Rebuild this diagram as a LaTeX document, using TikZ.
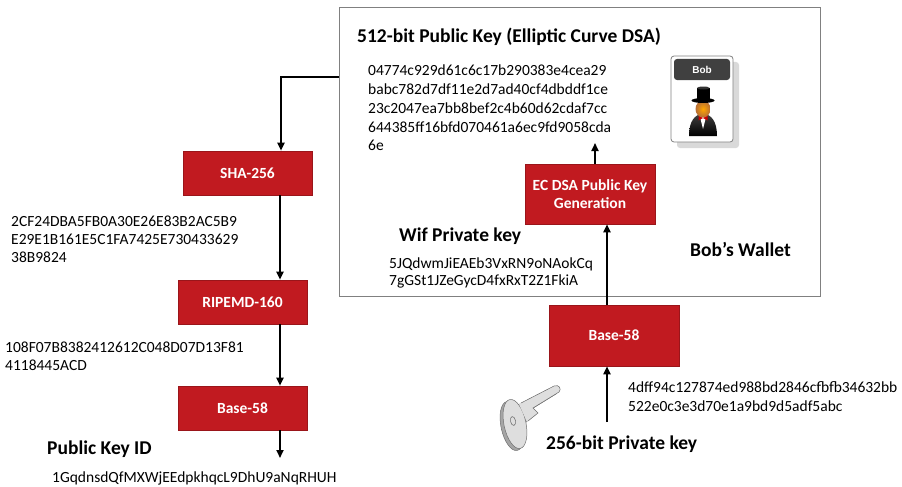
\documentclass[tikz,border=0pt]{standalone}
\usepackage{fontspec}
\setmainfont{Carlito}
\newfontfamily\cardfont{Liberation Sans}
\usetikzlibrary{arrows.meta,shapes.geometric}
\definecolor{boxred}{RGB}{193,26,32}
\definecolor{framegrey}{RGB}{128,128,128}
\definecolor{cardhead}{RGB}{64,64,64}
\definecolor{skin}{RGB}{214,128,62}
\definecolor{keylight}{RGB}{222,222,222}
\definecolor{keydark}{RGB}{165,165,165}
\definecolor{keyline}{RGB}{110,110,110}
\begin{document}
\begin{tikzpicture}[x=1pt,y=-1pt,
  stepbox/.style={rectangle, fill=boxred, draw=boxred!80!black, line width=0.6pt,
    text=white, font=\fontsize{15.5}{18}\selectfont\bfseries, align=center, inner sep=0pt},
  hexline/.style={anchor=base west, inner sep=0pt, font=\fontsize{15.5}{18.5}\selectfont},
  caption/.style={anchor=base west, inner sep=0pt, font=\fontsize{19.5}{22}\selectfont\bfseries},
  arr/.style={line width=1.8pt, -{Triangle[length=8pt,width=7pt]}},
]
\useasboundingbox (0,0) rectangle (902,487);

% ---------------- Bob's wallet frame ----------------
\node[draw=framegrey, line width=0.9pt, minimum width=481pt, minimum height=289pt,
      inner sep=0pt] (wallet) at (579.5,151.5) {};

\node[caption] (pktitle) at (357,42.7) {512-bit Public Key (Elliptic Curve DSA)};
\node[hexline] (pk1) at (368,76)    {04774c929d61c6c17b290383e4cea29};
\node[hexline] (pk2) at (368,94.7)  {babc782d7df11e2d7ad40cf4dbddf1ce};
\node[hexline] (pk3) at (368,113.4) {23c2047ea7bb8bef2c4b60d62cdaf7cc};
\node[hexline] (pk4) at (368,132.1) {644385ff16bfd070461a6ec9fd9058cda};
\node[hexline] (pk5) at (368,150.8) {6e};

\node[caption] (wiftitle) at (399,241) {Wif Private key};
\node[hexline] (wif1) at (389,268) {5JQdwmJiEAEb3VxRN9oNAokCq};
\node[hexline] (wif2) at (389,285) {7gGSt1JZeGycD4fxRxT2Z1FkiA};

\node[caption] (wallettitle) at (690,256) {Bob’s Wallet};

\node[stepbox, minimum width=130pt, minimum height=60pt] (ecdsa) at (590,194)
  {EC DSA Public Key\\Generation};

% ---------------- Bob's card ----------------
\fill[black!15, rounded corners=3pt] (677,62) rectangle (739,148);
\node[draw=framegrey, fill=white, line width=0.8pt, rounded corners=3pt,
      minimum width=62pt, minimum height=86pt, inner sep=0pt] (card) at (702,99) {};
\node[fill=cardhead, rounded corners=3pt, minimum width=56pt, minimum height=21pt,
      inner sep=0pt, text=white, font=\cardfont\fontsize{10}{12}\selectfont\bfseries]
      (cardname) at (702,69.5) {Bob};
% body in tuxedo
\shade[top color=black!75, bottom color=black]
  (689,136) .. controls (689,121) and (695,114) .. (703,114)
            .. controls (711,114) and (717,121) .. (717,136) -- cycle;
\fill[white] (699.5,115) -- (706.5,115) -- (703,129) -- cycle;
\fill[red!80!black] (703,118) -- (698.5,115.5) -- (698.5,120.5) -- cycle;
\fill[red!80!black] (703,118) -- (707.5,115.5) -- (707.5,120.5) -- cycle;
% head
\shade[inner color=orange!70!yellow, outer color=skin!85!black]
  (703,109) ellipse [x radius=7.5, y radius=8.5];
% top hat
\fill[black] (697,88) rectangle (709.5,100);
\fill[black!80] (703.25,88) ellipse [x radius=6.25, y radius=1.5];
\fill[black] (703,100.5) ellipse [x radius=11.5, y radius=2.5];

% ---------------- private key side ----------------
\node[stepbox, minimum width=130pt, minimum height=61pt] (b58r) at (614,335.5) {Base-58};
\node[hexline] (priv1) at (628,392) {4dff94c127874ed988bd2846cfbfb34632bb};
\node[hexline] (priv2) at (628,411) {522e0c3e3d70e1a9bd9d5adf5abc};
\node[caption] (privtitle) at (546,449.3) {256-bit Private key};

% key picture: thickness first, then the front face
\begin{scope}[shift={(-3,2)}]
  \filldraw[fill=keydark, draw=keyline, line width=0.5pt]
    (515,424) ellipse [x radius=11, y radius=25, rotate=12];
  \fill[keydark] (519,404) -- (554,386) .. controls (559,384) and (562,389) .. (559,392)
    -- (533,408) -- (538,413) -- (527,422) -- cycle;
  \draw[keyline, line width=0.5pt] (521,403) -- (554,386) .. controls (559,384) and (562,389) .. (559,392)
    -- (533,408) -- (538,413) -- (528,421);
\end{scope}
\filldraw[fill=keylight, draw=keyline, line width=0.5pt]
  (515,424) ellipse [x radius=11, y radius=25, rotate=12];
\fill[keylight] (519,404) -- (554,386) .. controls (559,384) and (562,389) .. (559,392)
  -- (533,408) -- (538,413) -- (527,422) -- cycle;
\draw[keyline, line width=0.5pt] (521,403) -- (554,386) .. controls (559,384) and (562,389) .. (559,392)
  -- (533,408) -- (538,413) -- (528,421);
\draw[keyline, line width=0.6pt] (513,421) ellipse [x radius=2.5, y radius=4.5, rotate=12];

% ---------------- hashing column ----------------
\node[stepbox, minimum width=129pt, minimum height=44pt] (sha) at (247.5,173) {SHA-256};
\node[stepbox, minimum width=129pt, minimum height=44pt] (ripemd) at (242.5,302) {RIPEMD-160};
\node[stepbox, minimum width=129pt, minimum height=44pt] (b58l) at (242.5,408) {Base-58};

\node[hexline] (sha1) at (11,226) {2CF24DBA5FB0A30E26E83B2AC5B9};
\node[hexline] (sha2) at (11,244) {E29E1B161E5C1FA7425E730433629};
\node[hexline] (sha3) at (11,262) {38B9824};

\node[hexline] (rip1) at (5,352) {108F07B8382412612C048D07D13F81};
\node[hexline] (rip2) at (5,370) {4118445ACD};

\node[caption] (idtitle) at (47,454) {Public Key ID};
\node[hexline] (id1) at (52,482.7) {1GqdnsdQfMXWjEEdpkhqcL9DhU9aNqRHUH};

% ---------------- connectors ----------------
\coordinate (pkout) at (wallet.west |- 0,77);
\coordinate (turn) at (281,77);
\coordinate (colx) at (280,0);
\coordinate (idend) at (280,458);
\coordinate (privin) at (607,422);
\coordinate (pkin) at (595,143);

\draw[arr] (pkout) -- (turn) -- (turn |- sha.north);
\draw[arr] (sha.south -| colx) -- (ripemd.north -| colx);
\draw[arr] (ripemd.south -| colx) -- (b58l.north -| colx);
\draw[arr] (b58l.south -| colx) -- (idend);
\draw[arr] (privin) -- (b58r.south -| privin);
\draw[arr] (b58r.north -| privin) -- (ecdsa.south -| privin);
\draw[arr] (ecdsa.north -| pkin) -- (pkin);
\end{tikzpicture}
\end{document}
